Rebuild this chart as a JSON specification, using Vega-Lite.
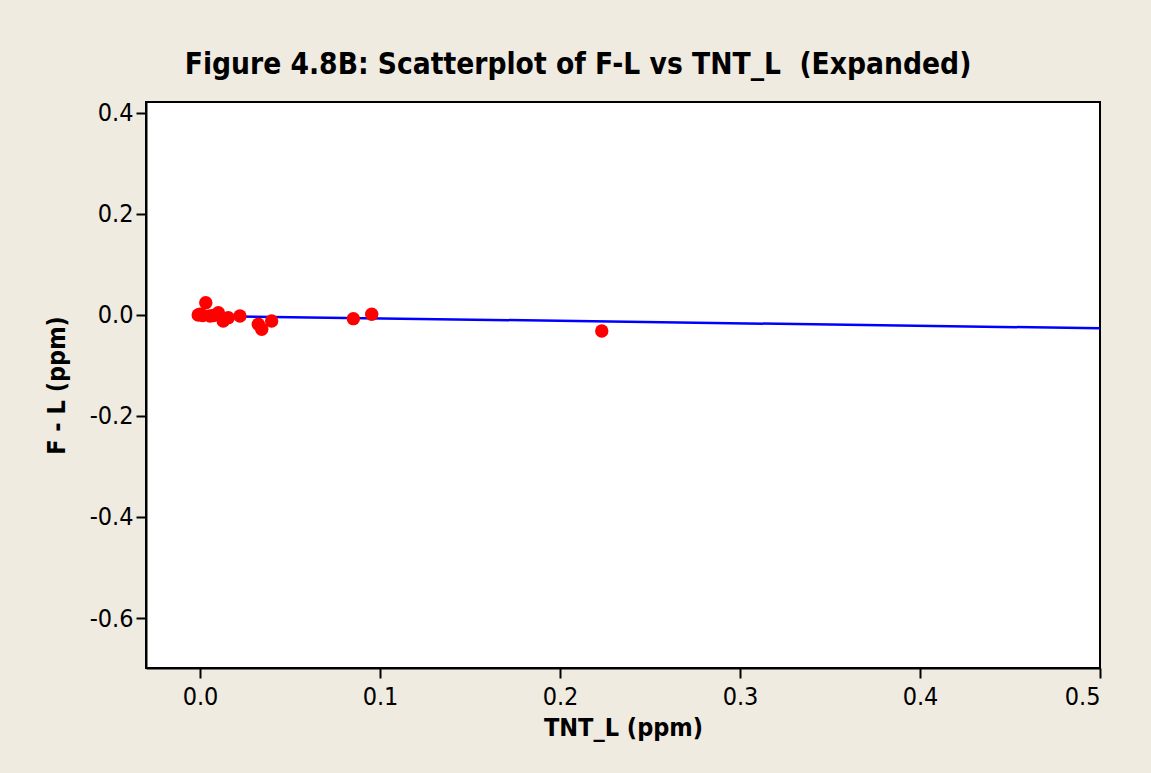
{
  "$schema": "https://vega.github.io/schema/vega-lite/v6.json",
  "width": 954,
  "height": 566,
  "autosize": {"type": "none"},
  "padding": {"left": 146, "top": 102, "right": 51, "bottom": 105},
  "background": "#EFEBE0",
  "title": {
    "text": "Figure 4.8B: Scatterplot of F-L vs TNT_L \u00a0(Expanded)",
    "font": "DejaVu Sans Condensed, DejaVu Sans",
    "fontSize": 29.6,
    "fontWeight": "bold",
    "color": "black",
    "anchor": "middle",
    "frame": "group",
    "dx": -45,
    "dy": 5,
    "baseline": "alphabetic",
    "offset": 2
  },
  "config": {
    "view": {"stroke": "black", "strokeWidth": 2, "fill": "white"},
    "axis": {
      "domainColor": "black",
      "domainWidth": 2,
      "tickColor": "black",
      "tickWidth": 2,
      "tickSize": 10,
      "grid": false,
      "labelFont": "DejaVu Sans Condensed, DejaVu Sans",
      "labelFontSize": 25,
      "labelColor": "black",
      "titleFont": "DejaVu Sans Condensed, DejaVu Sans",
      "titleFontSize": 25,
      "titleFontWeight": "bold",
      "titleColor": "black"
    }
  },
  "datasets": {
    "points": [
      {"TNT_L": 0.0, "FL": 0.0014},
      {"TNT_L": -0.001, "FL": 0.0},
      {"TNT_L": 0.0015, "FL": -0.001},
      {"TNT_L": 0.0032, "FL": 0.0243},
      {"TNT_L": 0.0056, "FL": -0.002},
      {"TNT_L": 0.0075, "FL": -0.001},
      {"TNT_L": 0.0102, "FL": 0.0045},
      {"TNT_L": 0.0129, "FL": -0.0118},
      {"TNT_L": 0.0157, "FL": -0.0053},
      {"TNT_L": 0.0222, "FL": -0.002},
      {"TNT_L": 0.0324, "FL": -0.0184},
      {"TNT_L": 0.0343, "FL": -0.0282},
      {"TNT_L": 0.0398, "FL": -0.0118},
      {"TNT_L": 0.0852, "FL": -0.0073},
      {"TNT_L": 0.0954, "FL": 0.0014},
      {"TNT_L": 0.2232, "FL": -0.0316}
    ],
    "fit": [
      {"TNT_L": 0.0, "FL": -0.0018},
      {"TNT_L": 0.5, "FL": -0.0263}
    ]
  },
  "layer": [
    {
      "data": {"name": "fit"},
      "mark": {"type": "line", "color": "#0000FF", "strokeWidth": 2.5, "clip": true},
      "encoding": {
        "x": {"field": "TNT_L", "type": "quantitative"},
        "y": {"field": "FL", "type": "quantitative"}
      }
    },
    {
      "data": {"name": "points"},
      "mark": {"type": "circle", "color": "#FF0000", "opacity": 1, "size": 180},
      "encoding": {
        "x": {
          "field": "TNT_L",
          "type": "quantitative",
          "scale": {"domain": [-0.03, 0.5], "nice": false, "zero": false},
          "axis": {
            "title": "TNT_L (ppm)",
            "values": [0, 0.1, 0.2, 0.3, 0.4, 0.5],
            "format": ".1f",
            "labelPadding": 6,
            "titlePadding": 6
          }
        },
        "y": {
          "field": "FL",
          "type": "quantitative",
          "scale": {"domain": [-0.699, 0.4217], "nice": false, "zero": false},
          "axis": {
            "title": "F - L (ppm)",
            "values": [-0.6, -0.4, -0.2, 0, 0.2, 0.4],
            "labelExpr": "replace(format(datum.value, '.1f'), '\u2212', '-')",
            "labelPadding": 3,
            "titlePadding": 20
          }
        }
      }
    }
  ]
}
